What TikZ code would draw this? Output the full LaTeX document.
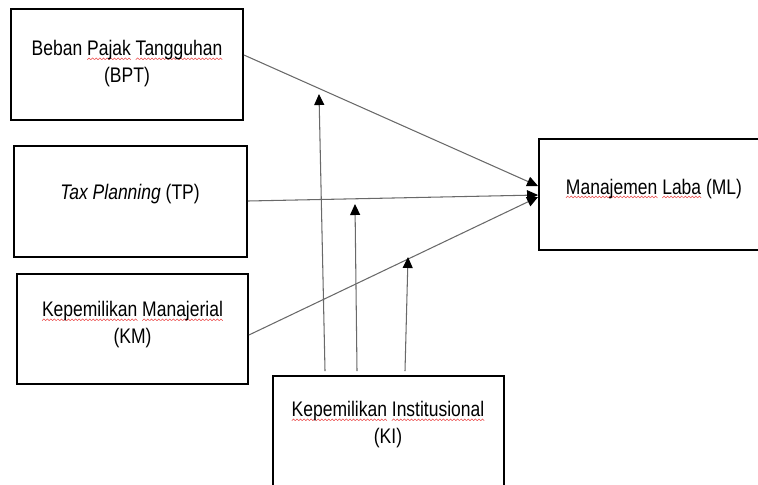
\documentclass[tikz,border=0pt]{standalone}
\usepackage{fontspec}
\setmainfont{Liberation Sans}[FakeStretch=0.83]
\usetikzlibrary{arrows.meta}

\definecolor{garis}{RGB}{105,105,105}
\definecolor{salah}{RGB}{235,70,70}
\newsavebox\gelombang
\AtBeginDocument{\sbox\gelombang{\pgfpicture
  \pgfpathrectangle{\pgfpoint{0pt}{-0.6pt}}{\pgfpoint{2pt}{1.2pt}}\pgfusepath{use as bounding box}
  \pgfsetlinewidth{0.3pt}\pgfsetstrokecolor{salah}
  \pgfpathmoveto{\pgfpoint{0pt}{-0.5pt}}\pgfpathlineto{\pgfpoint{1pt}{0.5pt}}\pgfpathlineto{\pgfpoint{2pt}{-0.5pt}}
  \pgfusepath{stroke}\endpgfpicture}}
\newcommand\ejaan[1]{\leavevmode\setbox0\hbox{#1}\rlap{\lower2.3pt\hbox to\wd0{\xleaders\copy\gelombang\hfill}}\box0\relax}

\begin{document}
\begin{tikzpicture}[x=0.02cm,y=-0.02cm,
  kotak/.style={draw,line width=1.1pt,minimum width=4.64cm,minimum height=2.22cm,inner sep=0pt},
  teks/.style={align=center,inner sep=0pt,anchor=base,font=\fontsize{12}{14.9}\selectfont},
  panah/.style={draw=garis,line width=0.6pt,-{Triangle[length=0.22cm,width=0.2cm,color=black]}}]
\useasboundingbox (0,0) rectangle (758,484);

% kotak variabel
\node[kotak] (bpt) at (127,64.5) {};
\node[kotak,minimum width=4.66cm] (tp) at (130.5,201.5) {};
\node[kotak,minimum width=4.62cm,minimum height=2.2cm] (km) at (132.5,329) {};
\node[kotak,minimum width=4.62cm,minimum height=2.4cm] (ki) at (388.5,436) {};
\node[kotak,minimum width=4.6cm] (ml) at (654,194.5) {};

% teks (base = baris terakhir)
\node[teks] (bpt-l) at (127,82) {Beban \ejaan{Pajak} \ejaan{Tangguhan}\\(BPT)};
\node[teks] (tp-l) at (130,199) {\textit{Tax Planning} (TP)};
\node[teks] (km-l) at (132.5,343) {\ejaan{Kepemilikan} \ejaan{Manajerial}\\(KM)};
\node[teks] (ki-l) at (388,443) {\ejaan{Kepemilikan} \ejaan{Institusional}\\(KI)};
\node[teks] (ml-l) at (654,194) {\ejaan{Manajemen} \ejaan{Laba} (ML)};

% pengaruh langsung
\draw[panah] ([yshift=0.19cm]bpt.east) -- ([yshift=0.17cm]ml.west);
\draw[panah] ([yshift=0.01cm]tp.east) -- ([yshift=-0.01cm]ml.west);
\draw[panah] ([yshift=-0.12cm]km.east) -- ([yshift=-0.05cm]ml.west);

% moderasi
\coordinate (m1) at (319,94);
\coordinate (m2) at (355,204);
\coordinate (m3) at (408,257);
\draw[panah] ([xshift=-1.27cm,yshift=0.08cm]ki.north) -- (m1);
\draw[panah] ([xshift=-0.63cm,yshift=0.08cm]ki.north) -- (m2);
\draw[panah] ([xshift=0.33cm,yshift=0.08cm]ki.north) -- (m3);

\end{tikzpicture}
\end{document}
